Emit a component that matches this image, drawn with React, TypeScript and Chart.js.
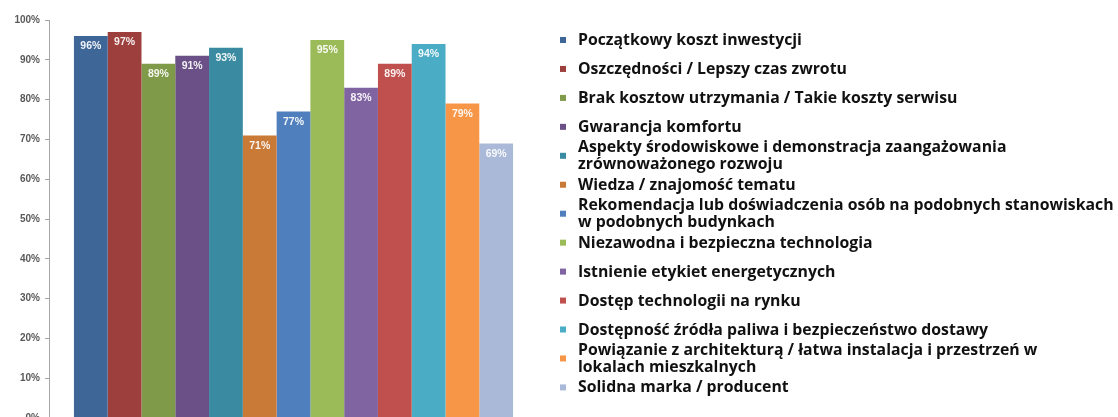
import React, { useEffect, useRef } from 'react';
import { Chart, registerables } from 'chart.js';

Chart.register(...registerables);

const categories: string[] = [''];

const seriesNames: string[][] = [
  ['Początkowy koszt inwestycji'],
  ['Oszczędności / Lepszy czas zwrotu'],
  ['Brak kosztow utrzymania / Takie koszty serwisu'],
  ['Gwarancja komfortu'],
  ['Aspekty środowiskowe i demonstracja zaangażowania', 'zrównoważonego rozwoju'],
  ['Wiedza / znajomość tematu'],
  ['Rekomendacja lub doświadczenia osób na podobnych stanowiskach', 'w podobnych budynkach'],
  ['Niezawodna i bezpieczna technologia'],
  ['Istnienie etykiet energetycznych'],
  ['Dostęp technologii na rynku'],
  ['Dostępność źródła paliwa i bezpieczeństwo dostawy'],
  ['Powiązanie z architekturą / łatwa instalacja i przestrzeń w', 'lokalach mieszkalnych'],
  ['Solidna marka / producent'],
];

const seriesValues: number[] = [96, 97, 89, 91, 93, 71, 77, 95, 83, 89, 94, 79, 69];

const seriesColors: string[] = [
  '#3E6797', '#9D3F3C', '#7F9A48', '#6A5086', '#3A8BA1', '#CA7A37', '#4F80BD',
  '#9BBB59', '#8064A2', '#C0504D', '#4BACC6', '#F79646', '#A9B9D7',
];

const yTickValues: number[] = [0, 10, 20, 30, 40, 50, 60, 70, 80, 90, 100];

const valueLabelPlugin = {
  id: 'valueLabels',
  afterDatasetsDraw(chart: any) {
    const ctx = chart.ctx;
    ctx.save();
    ctx.font = 'bold 10.5px "Liberation Sans", Arial, sans-serif';
    ctx.fillStyle = 'rgba(255,255,255,0.92)';
    ctx.textAlign = 'center';
    ctx.textBaseline = 'middle';
    chart.data.datasets.forEach((ds: any, i: number) => {
      const meta = chart.getDatasetMeta(i);
      meta.data.forEach((el: any, j: number) => {
        ctx.fillText(ds.data[j] + '%', el.x, el.y + 10.5);
      });
    });
    ctx.restore();
  },
};

const sideLegendPlugin = {
  id: 'sideLegend',
  afterDraw(chart: any) {
    const ctx = chart.ctx;
    const startY = 40;
    const step = 28.95;
    const lineGap = 17;
    const markerX = 560;
    const textX = 578;
    const family = '"Open Sans", Lato, sans-serif';
    ctx.save();
    ctx.font = 'bold 100px ' + family;
    const refW = ctx.measureText(chart.data.datasets[0].legendLines[0]).width;
    const size = Math.min(17, (100 * 224) / refW);
    ctx.font = 'bold ' + size.toFixed(2) + 'px ' + family;
    ctx.textAlign = 'left';
    ctx.textBaseline = 'middle';
    chart.data.datasets.forEach((ds: any, i: number) => {
      const cy = startY + i * step;
      ctx.fillStyle = ds.backgroundColor;
      ctx.fillRect(markerX, cy - 3, 6, 6);
      ctx.fillStyle = '#111111';
      const lines: string[] = ds.legendLines;
      const top = cy - ((lines.length - 1) * lineGap) / 2;
      lines.forEach((ln, k) => ctx.fillText(ln, textX, top + k * lineGap + 0.5));
    });
    ctx.restore();
  },
};

export default function App() {
  const canvasRef = useRef<HTMLCanvasElement | null>(null);

  useEffect(() => {
    document.body.style.overflow = 'hidden';
    const canvas = canvasRef.current;
    if (!canvas) return;
    const chart = new Chart(canvas, {
      type: 'bar',
      data: {
        labels: categories,
        datasets: seriesNames.map((name, i) => ({
          label: name.join(' '),
          legendLines: name,
          data: [seriesValues[i]],
          backgroundColor: seriesColors[i],
          borderWidth: 0,
          categoryPercentage: 0.898,
          barPercentage: 1,
        })) as any,
      },
      options: {
        responsive: false,
        maintainAspectRatio: false,
        animation: false,
        devicePixelRatio: 1,
        layout: { padding: { top: 20, bottom: 22, left: 0, right: 580 } },
        plugins: {
          legend: { display: false },
          tooltip: { enabled: false },
          title: { display: false },
        },
        scales: {
          x: { display: false },
          y: {
            min: 0,
            max: 100,
            afterBuildTicks: (scale: any) => {
              scale.ticks = yTickValues.map((v) => ({ value: v }));
            },
            afterFit: (scale: any) => {
              scale.width = 49;
            },
            ticks: {
              padding: 5,
              color: '#595959',
              font: { family: '"Liberation Sans", Arial, sans-serif', size: 10, weight: 'bold' },
              callback: (v: any) => v + '%',
            },
            grid: {
              drawOnChartArea: false,
              drawTicks: true,
              tickLength: 4,
              color: '#A6A6A6',
            },
            border: { display: true, color: '#A6A6A6', width: 1 },
          },
        },
      } as any,
      plugins: [valueLabelPlugin, sideLegendPlugin],
    });
    return () => chart.destroy();
  }, []);

  return (
    <div style={{ position: 'fixed', left: 0, top: 0, width: 1118, height: 440, background: '#fff' }}>
      <canvas ref={canvasRef} width={1118} height={440} style={{ width: 1118, height: 440, display: 'block' }} />
    </div>
  );
}
